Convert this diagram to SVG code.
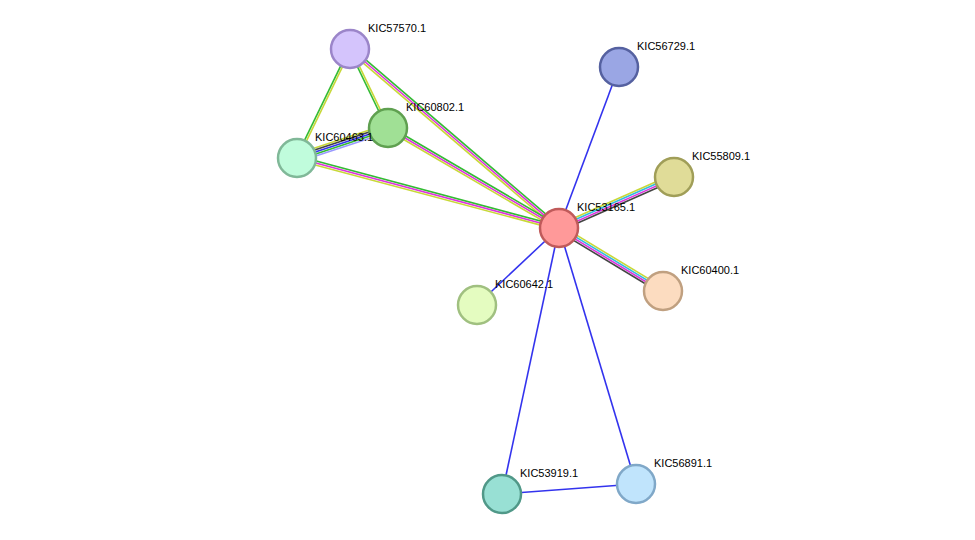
<svg xmlns="http://www.w3.org/2000/svg" width="975" height="540" viewBox="0 0 975 540">
<style>
line{stroke-width:1.6;fill:none}
.g{stroke:#33bb33}.m{stroke:#dd33dd}.y{stroke:#c8d838}.k{stroke:#444}.b{stroke:#3333ee}.c{stroke:#33bbdd}.l{stroke:#9999ff}
circle{stroke-width:2.5}
text{font-family:"Liberation Sans",Arial,sans-serif;font-size:11px;fill:#000}
</style>
<rect width="975" height="540" fill="#fff"/>
<g id="edges">
<g transform="translate(350,49) rotate(40.58)"><line class="g" x1="0" y1="-2" x2="275" y2="-2"/><line class="m" x1="0" y1="0" x2="275" y2="0"/><line class="y" x1="0" y1="2" x2="275" y2="2"/></g>
<g transform="translate(388,128) rotate(30.32)"><line class="g" x1="0" y1="-2" x2="198" y2="-2"/><line class="m" x1="0" y1="0" x2="198" y2="0"/><line class="y" x1="0" y1="2" x2="198" y2="2"/></g>
<g transform="translate(297,158) rotate(14.96)"><line class="g" x1="0" y1="-2" x2="271" y2="-2"/><line class="m" x1="0" y1="0" x2="271" y2="0"/><line class="y" x1="0" y1="2" x2="271" y2="2"/></g>
<g transform="translate(350,49) rotate(64.3)"><line class="y" x1="0" y1="-1" x2="88" y2="-1"/><line class="g" x1="0" y1="1" x2="88" y2="1"/></g>
<g transform="translate(350,49) rotate(115.9)"><line class="y" x1="0" y1="-1" x2="121" y2="-1"/><line class="g" x1="0" y1="1" x2="121" y2="1"/></g>
<g transform="translate(297,158) rotate(-18.25)"><line class="y" x1="0" y1="-4" x2="96" y2="-4"/><line class="k" x1="0" y1="-2" x2="96" y2="-2"/><line class="b" x1="0" y1="0" x2="96" y2="0"/><line class="g" x1="0" y1="2" x2="96" y2="2"/><line class="l" x1="0" y1="4" x2="96" y2="4"/></g>
<g transform="translate(559,228) rotate(-23.9)"><line class="y" x1="0" y1="-3" x2="126" y2="-3"/><line class="c" x1="0" y1="-1" x2="126" y2="-1"/><line class="m" x1="0" y1="1" x2="126" y2="1"/><line class="k" x1="0" y1="3" x2="126" y2="3"/></g>
<g transform="translate(559,228) rotate(31.2)"><line class="y" x1="0" y1="-3" x2="122" y2="-3"/><line class="c" x1="0" y1="-1" x2="122" y2="-1"/><line class="m" x1="0" y1="1" x2="122" y2="1"/><line class="k" x1="0" y1="3" x2="122" y2="3"/></g>
<line class="b" x1="559" y1="228" x2="619" y2="67"/>
<line class="b" x1="559" y1="228" x2="477" y2="305"/>
<line class="b" x1="559" y1="228" x2="502" y2="494"/>
<line class="b" x1="559" y1="228" x2="636" y2="484"/>
<line class="b" x1="502" y1="494" x2="636" y2="484"/>
</g>
<g id="KIC53165.1"><circle cx="559" cy="228" r="19" fill="#ff9999" stroke="#c05a5a"/><text x="577" y="211">KIC53165.1</text></g>
<g id="KIC57570.1"><circle cx="350" cy="49" r="19" fill="#d4c4fc" stroke="#9b85c9"/><text x="368" y="32">KIC57570.1</text></g>
<g id="KIC60802.1"><circle cx="388" cy="128" r="19" fill="#a0e095" stroke="#5fa050"/><text x="406" y="111">KIC60802.1</text></g>
<g id="KIC60463.1"><circle cx="297" cy="158" r="19" fill="#c0fcdc" stroke="#80b898"/><text x="315" y="141">KIC60463.1</text></g>
<g id="KIC56729.1"><circle cx="619" cy="67" r="19" fill="#9aa6e4" stroke="#5561a0"/><text x="637" y="50">KIC56729.1</text></g>
<g id="KIC55809.1"><circle cx="674" cy="177" r="19" fill="#e0dc98" stroke="#a09e58"/><text x="692" y="160">KIC55809.1</text></g>
<g id="KIC60400.1"><circle cx="663" cy="291" r="19" fill="#fcdcc0" stroke="#c0a080"/><text x="681" y="274">KIC60400.1</text></g>
<g id="KIC60642.1"><circle cx="477" cy="305" r="19" fill="#e4fcc0" stroke="#a0c080"/><text x="495" y="288">KIC60642.1</text></g>
<g id="KIC53919.1"><circle cx="502" cy="494" r="19" fill="#98e0d4" stroke="#509888"/><text x="520" y="477">KIC53919.1</text></g>
<g id="KIC56891.1"><circle cx="636" cy="484" r="19" fill="#c0e4fc" stroke="#80a8c8"/><text x="654" y="467">KIC56891.1</text></g>
</svg>
